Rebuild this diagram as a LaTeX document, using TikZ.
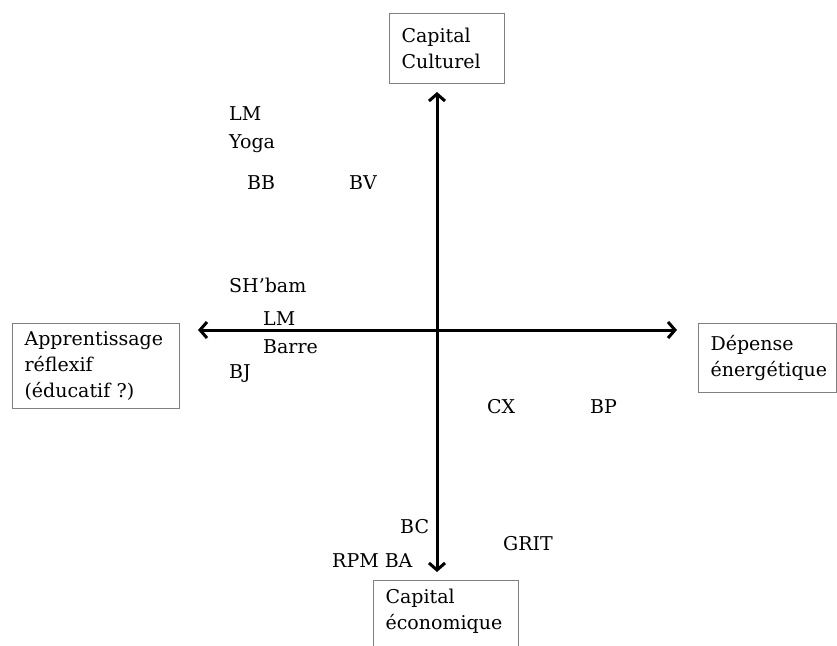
\documentclass[tikz,border=0pt]{standalone}
\usepackage{fontspec}
\setmainfont{DejaVu Serif}
\usetikzlibrary{arrows.meta}
\tikzset{
  axis/.style={line width=3pt, {Straight Barb[length=7pt,width=16pt]}-{Straight Barb[length=7pt,width=16pt]}},
  pole/.style={draw=black!50, line width=1.1pt, anchor=north west, align=left, inner xsep=12pt, inner ysep=0pt},
  tag/.style={anchor=base west, inner sep=0pt},
}
\begin{document}
\hyphenpenalty=10000
\begin{tikzpicture}[x=1pt,y=-1pt,font=\fontsize{19}{26}\selectfont]
\useasboundingbox (0,0) rectangle (837,645);
% the four poles
\node[pole, minimum width=115pt, minimum height=70pt, text width=91pt] (culturel) at (389,13) {Capital\\Culturel};
\node[pole, minimum width=167pt, minimum height=85pt, text width=143pt] (reflexif) at (12,323) {Apprentissage\\réflexif\\(éducatif ?)};
\node[pole, minimum width=138pt, minimum height=69pt, text width=114pt] (depense) at (698,323) {Dépense\\énergétique};
\node[pole, minimum width=145pt, text width=121pt, inner ysep=9pt] (economique) at (373,580) {Capital\\économique\\\rule{0pt}{30pt}};
% axes
\coordinate (north) at (437,92);
\coordinate (south) at (437,572);
\coordinate (west) at (198,330);
\coordinate (east) at (677,330);
\draw[axis] (north) -- (south);
\draw[axis] (west) -- (east);
% activities
\node[tag] (lm1) at (229,120) {LM};
\node[tag] (yoga) at (229,148) {Yoga};
\node[tag] (bb) at (247,189) {BB};
\node[tag] (bv) at (349,189) {BV};
\node[tag] (shbam) at (229,292) {SH’bam};
\node[tag] (lm2) at (263,325) {LM};
\node[tag] (barre) at (263,353) {Barre};
\node[tag] (bj) at (229,378) {BJ};
\node[tag] (cx) at (487,413) {CX};
\node[tag] (bp) at (590,413) {BP};
\node[tag] (bc) at (400,533) {BC};
\node[tag] (grit) at (503,550) {GRIT};
\node[tag] (rpm) at (332,567) {RPM BA};
\end{tikzpicture}
\end{document}
